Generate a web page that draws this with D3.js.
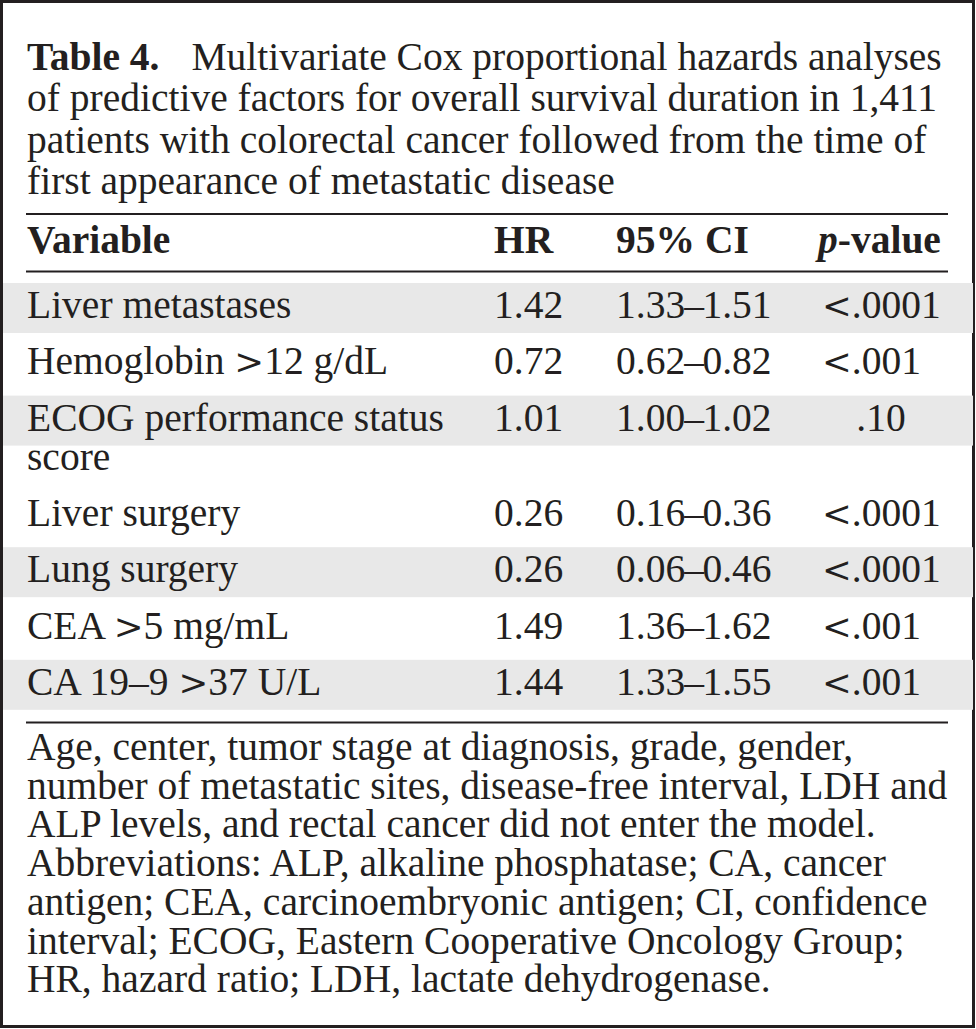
<!DOCTYPE html>
<html>
<head>
<meta charset="utf-8">
<script src="https://cdn.jsdelivr.net/npm/d3@7"></script>
<style>
  html, body { margin: 0; padding: 0; background: #fff; }
  svg text { font-family: "Liberation Serif", "Times New Roman", serif; fill: #231f20; }
</style>
</head>
<body>
<svg id="main"></svg>
<script>
const width = 976;
const height = 1029;

// table content
const titleLines = [
    'Multivariate Cox proportional hazards analyses',
    'of predictive factors for overall survival duration in 1,411',
    'patients with colorectal cancer followed from the time of',
    'first appearance of metastatic disease'
];
const columns = ['Variable', 'HR', '95% CI', 'p-value'];
const variables = [
    ['Liver metastases'],
    ['Hemoglobin >12 g/dL'],
    ['ECOG performance status', 'score'],
    ['Liver surgery'],
    ['Lung surgery'],
    ['CEA >5 mg/mL'],
    ['CA 19\u20139 >37 U/L']
];
const hr = [1.42, 0.72, 1.01, 0.26, 0.26, 1.49, 1.44];
const ciLow = [1.33, 0.62, 1.00, 0.16, 0.06, 1.36, 1.33];
const ciHigh = [1.51, 0.82, 1.02, 0.36, 0.46, 1.62, 1.55];
const pValues = ['<.0001', '<.001', '.10', '<.0001', '<.0001', '<.001', '<.001'];
const footnoteLines = [
    'Age, center, tumor stage at diagnosis, grade, gender,',
    'number of metastatic sites, disease-free interval, LDH and',
    'ALP levels, and rectal cancer did not enter the model.',
    'Abbreviations: ALP, alkaline phosphatase; CA, cancer',
    'antigen; CEA, carcinoembryonic antigen; CI, confidence',
    'interval; ECOG, Eastern Cooperative Oncology Group;',
    'HR, hazard ratio; LDH, lactate dehydrogenase.'
];

const fontSize = 39.5;
const left = 27;
const right = 948;

const svg = d3.select('#main').attr('width', width).attr('height', height);

// writes a string into a text node, with < and > set as wide math signs
function writeText(sel, str) {
    str.split(/([<>])/).filter(s => s.length).forEach(part => {
        const ts = sel.append('tspan').text(part);
        if (part === '<' || part === '>') {
            ts.attr('font-family', '"DejaVu Serif", serif').attr('font-size', '0.9em');
        }
    });
    return sel;
}

svg.append('rect')
    .attr('x', 1.5).attr('y', 1.5)
    .attr('width', 972).attr('height', 1025)
    .attr('fill', '#fff')
    .attr('stroke', '#231f20')
    .attr('stroke-width', 3);

// title
const titleY = d3.scaleLinear().domain([0, 1]).range([70, 111.3]);
const title = svg.append('g').attr('font-size', fontSize);
titleLines.forEach((line, i) => {
    const t = title.append('text').attr('x', left).attr('y', titleY(i));
    if (i === 0) {
        t.append('tspan').attr('font-weight', 'bold').text('Table 4.');
        t.append('tspan').attr('dx', 32).text(line);
    } else {
        t.text(line);
    }
});

// rows layout
const rowPitch = 56.3;
const extraLine = 39;
const baselines = [];
let extra = 0;
variables.forEach((v, i) => {
    baselines.push(318 + rowPitch * i + extra);
    extra += extraLine * (v.length - 1);
});
const colX = d3.scaleOrdinal().domain(columns).range([left, 494, 616, 822]);

// shaded stripes on every other row
svg.append('g')
    .selectAll('rect')
    .data(baselines.filter((b, i) => i % 2 === 0))
    .join('rect')
    .attr('x', 3)
    .attr('y', d => d - 35)
    .attr('width', 970)
    .attr('height', 50)
    .attr('fill', '#e8e8e8');

// rules
svg.append('g')
    .selectAll('line')
    .data([214, 271.5, 722.5])
    .join('line')
    .attr('x1', left - 1)
    .attr('x2', right)
    .attr('y1', d => d)
    .attr('y2', d => d)
    .attr('stroke', '#231f20')
    .attr('stroke-width', 2.2);

// header
const header = svg.append('g').attr('font-size', fontSize).attr('font-weight', 'bold');
columns.forEach(c => {
    const t = header.append('text').attr('x', colX(c) - (c === 'p-value' ? 4 : 0)).attr('y', 253);
    if (c === 'p-value') {
        t.append('tspan').attr('font-style', 'italic').text('p');
        t.append('tspan').text('-value');
    } else {
        t.text(c);
    }
});

// body
const body = svg.append('g').attr('font-size', fontSize);
variables.forEach((lines, i) => {
    lines.forEach((line, k) => {
        writeText(body.append('text')
            .attr('x', colX('Variable'))
            .attr('y', baselines[i] + k * extraLine), line);
    });
    body.append('text').attr('x', colX('HR')).attr('y', baselines[i]).text(hr[i].toFixed(2));
    const ci = body.append('text').attr('x', colX('95% CI')).attr('y', baselines[i]);
    ci.append('tspan').text(ciLow[i].toFixed(2));
    ci.append('tspan').attr('dx', -1).text('\u2013');
    ci.append('tspan').attr('dx', -1.5).text(ciHigh[i].toFixed(2));
    const p = pValues[i];
    writeText(body.append('text')
        .attr('x', p.startsWith('<') ? colX('p-value') : 881)
        .attr('text-anchor', p.startsWith('<') ? 'start' : 'middle')
        .attr('y', baselines[i]), p);
});

// footnote
const footY = d3.scaleLinear().domain([0, 1]).range([760, 798.7]);
svg.append('g')
    .attr('font-size', fontSize)
    .selectAll('text')
    .data(footnoteLines)
    .join('text')
    .attr('x', left)
    .attr('y', (d, i) => footY(i))
    .text(d => d);
</script>
</body>
</html>
